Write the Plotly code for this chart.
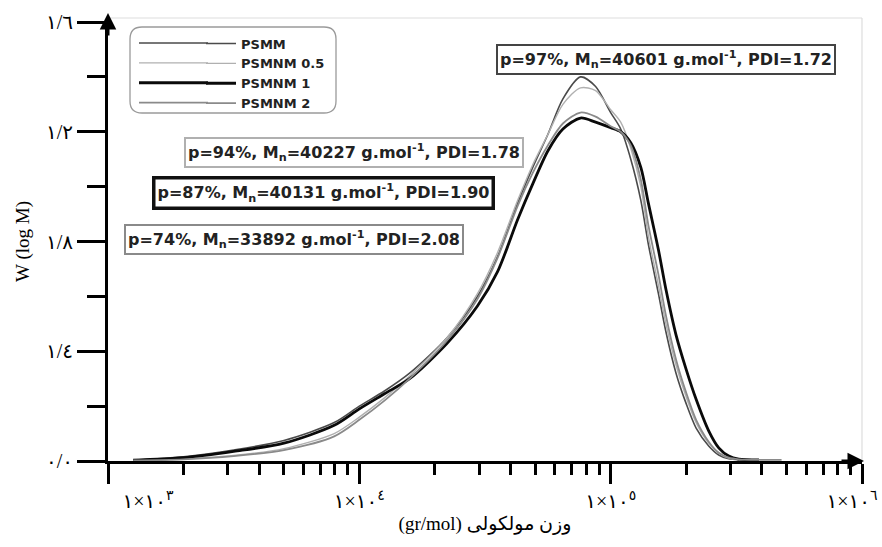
import plotly.graph_objects as go

# ---------------- data ----------------
log_m = [3.10, 3.30, 3.50, 3.70, 3.90, 4.00, 4.10, 4.20, 4.35, 4.47, 4.55, 4.63, 4.69, 4.75,
         4.81, 4.88, 4.94, 5.00, 5.04, 5.08, 5.12, 5.15, 5.19, 5.22, 5.26, 5.30, 5.34, 5.39,
         5.43, 5.47, 5.51, 5.59, 5.68]

psmm = [0.003, 0.015, 0.040, 0.075, 0.140, 0.200, 0.255, 0.320, 0.450, 0.600, 0.745, 0.940,
        1.070, 1.190, 1.320, 1.400, 1.365, 1.270, 1.210, 1.100, 0.950, 0.790, 0.610, 0.470,
        0.320, 0.210, 0.120, 0.055, 0.022, 0.008, 0.004, None, None]
psmnm_05 = [0.002, 0.008, 0.020, 0.045, 0.100, 0.160, 0.230, 0.310, 0.450, 0.610, 0.760,
            0.950, 1.080, 1.190, 1.300, 1.360, 1.350, 1.280, 1.235, 1.140, 1.000, 0.820,
            0.640, 0.500, 0.350, 0.235, 0.140, 0.065, 0.028, 0.011, 0.005, 0.003, None]
psmnm_1 = [0.003, 0.012, 0.035, 0.065, 0.130, 0.190, 0.245, 0.300, 0.430, 0.565, 0.690,
           0.880, 1.010, 1.130, 1.210, 1.250, 1.235, 1.215, 1.200, 1.160, 1.070, 0.940,
           0.770, 0.625, 0.460, 0.335, 0.225, 0.110, 0.048, 0.018, 0.007, 0.004, None]
psmnm_2 = [0.002, 0.006, 0.018, 0.040, 0.090, 0.150, 0.220, 0.300, 0.440, 0.590, 0.740,
           0.930, 1.050, 1.150, 1.230, 1.270, 1.255, 1.220, 1.200, 1.150, 1.025, 0.860,
           0.680, 0.530, 0.370, 0.250, 0.150, 0.070, 0.030, 0.012, 0.006, 0.004, 0.004]

series_names = ["PSMM", "PSMNM 0.5", "PSMNM 1", "PSMNM 2"]
series_values = [psmm, psmnm_05, psmnm_1, psmnm_2]

x_tick_vals = [1e3, 1e4, 1e5, 1e6]
x_tick_text = ["\u2003\u2003\u2003\u2003١\u200e×\u200e١٠<sup>٣</sup>",
               "١\u200e×\u200e١٠<sup>٤</sup>",
               "١\u200e×\u200e١٠<sup>٥</sup>",
               "١\u200e×\u200e١٠<sup>٦</sup>\u2003"]
y_tick_vals = [0.0, 0.4, 0.8, 1.2, 1.6]
y_tick_text = ["٠/٠", "١/٤", "١/٨", "١/٢", "١/٦"]

box_texts = ["p=97%, M<sub>n</sub>=40601 g.mol<sup>-1</sup>, PDI=1.72",
             "p=94%, M<sub>n</sub>=40227 g.mol<sup>-1</sup>, PDI=1.78",
             "p=87%, M<sub>n</sub>=40131 g.mol<sup>-1</sup>, PDI=1.90",
             "p=74%, M<sub>n</sub>=33892 g.mol<sup>-1</sup>, PDI=2.08"]

# ---------------- styling ----------------
W, H = 882, 547
PL, PR, PT, PB = 108, 862, 22, 461


def px(x):
    return (x - PL) / (PR - PL)


def py(y):
    return (PB - y) / (PB - PT)


line_colors = ["#4a4a4a", "#b0b0b0", "#0a0a0a", "#8a8a8a"]
line_widths = [1.6, 1.4, 2.8, 1.8]

fig = go.Figure()
mvals = [10 ** v for v in log_m]
for name, vals, c, w in zip(series_names, series_values, line_colors, line_widths):
    fig.add_trace(go.Scatter(x=mvals, y=vals, mode="lines", name=name,
                             line=dict(color=c, width=w, shape="spline", smoothing=0.8),
                             connectgaps=False))

serif = "Liberation Serif, DejaVu Sans"
minor_x = [k * 10 ** e for e in (3, 4, 5) for k in range(2, 10)]

LEG_TOP = 28.5
LEG_ROW = 19.9
fig.update_layout(
    width=W, height=H,
    margin=dict(l=PL, r=W - PR, t=PT, b=H - PB, autoexpand=False),
    paper_bgcolor="white", plot_bgcolor="white",
    showlegend=True,
    legend=dict(x=px(201), y=py(LEG_TOP), xanchor="left", yanchor="top",
                bgcolor="rgba(0,0,0,0)", borderwidth=0,
                font=dict(family="DejaVu Sans", size=13, color="#222", weight="bold"),
                itemwidth=30, tracegroupgap=0),
    xaxis=dict(type="log", range=[3, 6], showgrid=False, zeroline=False, automargin=False,
               showline=True, linewidth=3, linecolor="black",
               ticks="outside", ticklen=20, tickwidth=2.5, tickcolor="black",
               tickvals=x_tick_vals, ticktext=x_tick_text, ticklabeloverflow="allow",
               tickfont=dict(family=serif, size=20, color="black"),
               minor=dict(tickvals=minor_x, ticks="outside", ticklen=11,
                          tickwidth=2.5, tickcolor="black", showgrid=False),
               title=dict(text="(gr/mol) وزن مولکولی",
                          font=dict(family=serif, size=19, color="black"), standoff=6)),
    yaxis=dict(range=[0, 1.6], showgrid=False, zeroline=False, automargin=False,
               showline=True, linewidth=3, linecolor="black",
               ticks="outside", ticklen=28, tickwidth=3, tickcolor="black",
               tickvals=y_tick_vals, ticktext=y_tick_text, ticklabeloverflow="allow",
               tickfont=dict(family=serif, size=20, color="black"),
               minor=dict(tickvals=[0.2, 0.6, 1.0, 1.4], ticks="outside", ticklen=18,
                          tickwidth=3, tickcolor="black", showgrid=False),
               title=dict(text="W (log M)", font=dict(family=serif, size=19, color="black"),
                          standoff=12)),
)

# light frame on top / right
fig.add_shape(type="line", xref="paper", yref="paper", x0=0, x1=1, y0=py(18), y1=py(18),
              line=dict(color="#dddddd", width=1.2))
fig.add_shape(type="line", xref="paper", yref="paper", x0=1, x1=1, y0=0, y1=py(18),
              line=dict(color="#dddddd", width=1.2))

# rounded legend frame
lx0, lx1, ly0, ly1, r = 130, 336, 27, 113, 12
path = (f"M {px(lx0 + r)},{py(ly0)} L {px(lx1 - r)},{py(ly0)} "
        f"Q {px(lx1)},{py(ly0)} {px(lx1)},{py(ly0 + r)} L {px(lx1)},{py(ly1 - r)} "
        f"Q {px(lx1)},{py(ly1)} {px(lx1 - r)},{py(ly1)} L {px(lx0 + r)},{py(ly1)} "
        f"Q {px(lx0)},{py(ly1)} {px(lx0)},{py(ly1 - r)} L {px(lx0)},{py(ly0 + r)} "
        f"Q {px(lx0)},{py(ly0)} {px(lx0 + r)},{py(ly0)} Z")
fig.add_shape(type="path", xref="paper", yref="paper", path=path,
              line=dict(color="#9a9a9a", width=1.3), layer="below")

# longer legend line samples (extend the legend's own short samples to the left)
for i, (c, w) in enumerate(zip(line_colors, line_widths)):
    yy = LEG_TOP + 14.45 + i * LEG_ROW
    fig.add_shape(type="line", xref="paper", yref="paper", x0=px(139), x1=px(208),
                  y0=py(yy), y1=py(yy), line=dict(color=c, width=w))

# annotation boxes
box_specs = [  # center x, center y (px), border color, border width
    (666, 59, "#444444", 2.0),
    (354, 152, "#b0b0b0", 2.0),
    (323, 193, "#111111", 3.5),
    (294, 240, "#8a8a8a", 2.0),
]
for txt, (cx, cy, bc, bw) in zip(box_texts, box_specs):
    fig.add_annotation(x=px(cx), y=py(cy), xref="paper", yref="paper", text=txt,
                       xanchor="center", yanchor="middle",
                       showarrow=False, bgcolor="white", bordercolor=bc, borderwidth=bw,
                       borderpad=2,
                       font=dict(family="DejaVu Sans", size=16, color="#222", weight="bold"))

# axis arrows
fig.add_annotation(x=0, y=py(13), xref="paper", yref="paper", ax=0, ay=24, text="",
                   showarrow=True, arrowhead=2, arrowsize=1.1, arrowwidth=3, arrowcolor="black")
fig.add_annotation(x=px(864), y=0, xref="paper", yref="paper", ax=-24, ay=0, text="",
                   showarrow=True, arrowhead=2, arrowsize=1.1, arrowwidth=3, arrowcolor="black")

fig.write_html("out.html")
